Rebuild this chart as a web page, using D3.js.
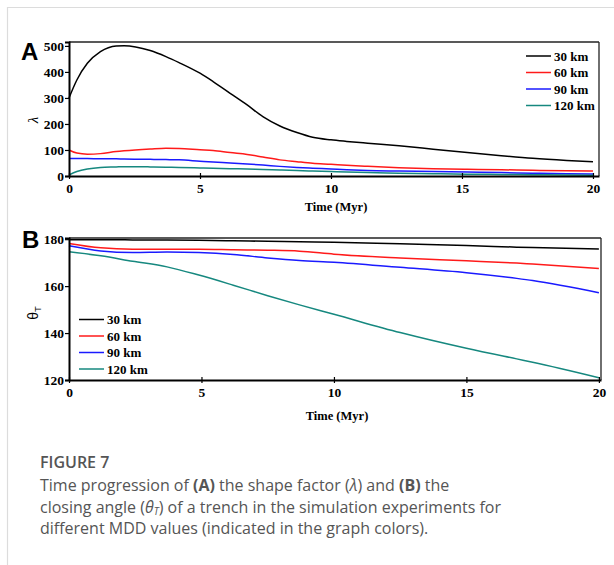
<!DOCTYPE html>
<html>
<head>
<meta charset="utf-8">
<script src="https://cdn.jsdelivr.net/npm/d3@7"></script>
<style>
  html, body { margin: 0; padding: 0; background: #fff; }
  svg { display: block; }
</style>
</head>
<body>
<svg id="fig" width="614" height="565"></svg>
<script>
// Legend entries (MDD values) and line colours
const seriesNames = ["30 km", "60 km", "90 km", "120 km"];
const seriesColors = ["#000000", "#ff1a1a", "#1a1aff", "#16887f"];

// Time axis samples (Myr)
const timeA = [0, 0.3, 0.7, 1.2, 1.8, 2.1, 3.1, 3.7, 4.2, 5, 5.5, 6.15, 6.8, 7.4, 8.05, 8.7, 9.3, 10, 10.6, 11.4, 12.6, 13.9, 15.2, 16.5, 17.7, 19, 20];
// Shape factor λ for each MDD
const lambda30 = [300, 369, 433, 478, 500, 501, 482, 459, 436, 395, 363, 318, 273, 228, 192, 167, 149, 139, 133, 126, 116, 103, 90, 78, 68, 60, 55];
const lambda60 = [100, 88, 84, 86, 94, 97, 104, 107, 106, 101, 98, 90, 83, 73, 62, 55, 49, 45, 41, 37, 32, 28, 26, 24, 22, 20, 19];
const lambda90 = [67, 67, 67, 66, 66, 65, 64, 63, 62, 57, 54, 50, 46, 42, 37, 33, 30, 27, 24, 21, 19, 17, 15, 13, 11, 9, 8];
const lambda120 = [4, 17, 27, 33, 35, 36, 35, 34, 33, 31, 30, 28, 27, 25, 23, 21, 19, 17, 15, 13, 11, 9, 7, 6, 5, 4, 3];

const timeB = [0, 1.2, 2.4, 3.7, 4.9, 6.2, 7.5, 8.7, 10, 12.5, 15, 16.9, 17.5, 20];
// Closing angle θT for each MDD
const theta30 = [179.8, 179.8, 179.7, 179.6, 179.5, 179.3, 179.1, 178.9, 178.7, 178.0, 177.3, 176.6, 176.4, 175.8];
const theta60 = [178.2, 176.3, 175.7, 175.7, 175.7, 175.5, 175.3, 174.9, 173.6, 172.0, 170.8, 169.8, 169.4, 167.5];
const theta90 = [177.2, 175.0, 174.3, 174.5, 174.3, 173.5, 172.0, 170.9, 170.2, 168.0, 165.7, 163.3, 162.4, 157.2];
const theta120 = [174.6, 172.9, 170.6, 168.2, 164.7, 160.4, 155.9, 152.0, 148.0, 140.2, 133.5, 129.0, 127.6, 121.0];

const ticksX = [0, 5, 10, 15, 20];
const ticksA = [0, 100, 200, 300, 400, 500];
const ticksB = [120, 140, 160, 180];

const svg = d3.select("#fig");
const serif = "'Liberation Serif', 'Times New Roman', serif";
const sans = "'Liberation Sans', Arial, sans-serif";

// card outline
svg.append("line").attr("x1", 7).attr("x2", 614).attr("y1", 7.5).attr("y2", 7.5)
  .attr("stroke", "#dcdcdc").attr("stroke-width", 1.2);
svg.append("line").attr("x1", 7.5).attr("x2", 7.5).attr("y1", 7).attr("y2", 565)
  .attr("stroke", "#dcdcdc").attr("stroke-width", 1.2);

function panel(opts) {
  const { left, right, top, bottom, x, y, yTicks, times, series, legendPos, letter, letterPos, labelY } = opts;
  const g = svg.append("g");

  // curves
  const line = d3.line().curve(d3.curveMonotoneX);
  series.forEach((vals, i) => {
    g.append("path")
      .attr("d", line(times.map((t, k) => [x(t), y(vals[k])])))
      .attr("fill", "none")
      .attr("stroke", seriesColors[i])
      .attr("stroke-width", 1.5);
  });

  // frame: thin top/right, heavy left/bottom
  g.append("line").attr("x1", left).attr("x2", right).attr("y1", top).attr("y2", top)
    .attr("stroke", "#222").attr("stroke-width", 1.3);
  g.append("line").attr("x1", right).attr("x2", right).attr("y1", top).attr("y2", bottom)
    .attr("stroke", "#222").attr("stroke-width", 1.3);

  const xAxis = d3.axisBottom(x).tickValues(ticksX).tickSize(0).tickPadding(7).tickFormat(d3.format("d"));
  const gx = g.append("g").attr("transform", `translate(0,${bottom})`).call(xAxis)
    .attr("font-family", serif).attr("font-size", 13.5).attr("font-weight", "bold");
  gx.select(".domain").attr("stroke", "#000").attr("stroke-width", 2);
  gx.selectAll(".tick line").attr("stroke", "#000").attr("stroke-width", 1.2)
    .attr("y1", -3).attr("y2", 3);
  gx.selectAll(".tick text").attr("fill", "#000");

  const yAxis = d3.axisLeft(y).tickValues(yTicks).tickSize(4).tickPadding(1).tickFormat(d3.format("d"));
  const gy = g.append("g").attr("transform", `translate(${left},0)`).call(yAxis)
    .attr("font-family", serif).attr("font-size", 13.5).attr("font-weight", "bold");
  gy.select(".domain").attr("stroke", "#000").attr("stroke-width", 2);
  gy.selectAll(".tick line").attr("stroke", "#000").attr("stroke-width", 1.2);
  gy.selectAll(".tick text").attr("fill", "#000");

  // x title
  g.append("text").attr("x", (left + right) / 2 + 2).attr("y", opts.titleY)
    .attr("text-anchor", "middle").attr("font-family", serif).attr("font-weight", "bold")
    .attr("font-size", 12.5).text("Time (Myr)");

  // panel letter
  g.append("text").attr("x", letterPos[0]).attr("y", letterPos[1])
    .attr("font-family", sans).attr("font-weight", "bold").attr("font-size", 24).text(letter);

  // y title
  labelY(g);

  // legend
  const lg = g.append("g").attr("transform", `translate(${legendPos[0]},${legendPos[1]})`);
  seriesNames.forEach((n, i) => {
    const row = lg.append("g").attr("transform", `translate(0,${i * 16.5})`);
    row.append("line").attr("x1", 0).attr("x2", 25).attr("y1", 0).attr("y2", 0)
      .attr("stroke", seriesColors[i]).attr("stroke-width", 1.5);
    row.append("text").attr("x", 28).attr("y", 4.5).attr("font-family", serif)
      .attr("font-weight", "bold").attr("font-size", 13).text(n);
  });
}

// Panel A: shape factor
const xA = d3.scaleLinear().domain([0, 20.23]).range([69, 599]);
const yA = d3.scaleLinear().domain([0, 515]).range([176, 42]);
panel({
  left: 69, right: 599, top: 42, bottom: 176, x: xA, y: yA, yTicks: ticksA,
  times: timeA, series: [lambda30, lambda60, lambda90, lambda120],
  legendPos: [526, 56], letter: "A", letterPos: [21, 60], titleY: 211,
  labelY: g => g.append("text").attr("transform", "translate(38,120) rotate(-90)")
    .attr("text-anchor", "middle").attr("font-family", serif).attr("font-style", "italic")
    .attr("font-size", 15).text("λ")
});

// Panel B: closing angle
const xB = d3.scaleLinear().domain([0, 20.08]).range([69, 601]);
const yB = d3.scaleLinear().domain([120, 180.5]).range([380, 238]);
panel({
  left: 69, right: 601, top: 238, bottom: 380, x: xB, y: yB, yTicks: ticksB,
  times: timeB, series: [theta30, theta60, theta90, theta120],
  legendPos: [79, 319.5], letter: "B", letterPos: [22, 248], titleY: 420,
  labelY: g => {
    const t = g.append("text").attr("transform", "translate(38,313) rotate(-90)")
      .attr("text-anchor", "middle").attr("font-family", sans).attr("font-size", 14);
    t.append("tspan").text("θ");
    t.append("tspan").attr("font-size", 9.5).attr("dy", 3).text("T");
  }
});

// caption
const capFont = "'Open Sans', Lato, sans-serif";
const capX = 40;
svg.append("text").attr("x", capX).attr("y", 468).attr("font-family", capFont)
  .attr("font-size", 16).attr("font-weight", 600).attr("fill", "#555").text("FIGURE 7");

const capLines = [
  [["Time progression of ", 0], ["(A)", 1], [" the shape factor (", 0], ["λ", 2], [") and ", 0], ["(B)", 1], [" the", 0]],
  [["closing angle (", 0], ["θ", 2], ["T", 3], [") of a trench in the simulation experiments for", 0]],
  [["different MDD values (indicated in the graph colors).", 0]]
];
capLines.forEach((segs, li) => {
  const t = svg.append("text").attr("x", capX).attr("y", 491 + li * 21.5)
    .attr("font-family", capFont).attr("font-size", 16).attr("fill", "#555");
  let sub = false;
  segs.forEach(([s, k]) => {
    const ts = t.append("tspan").text(s);
    if (k === 1) ts.attr("font-weight", "bold");
    if (k === 2) ts.attr("font-style", "italic");
    if (k === 3) { ts.attr("font-size", 10).attr("font-style", "italic").attr("dy", 2.5); sub = true; }
    else if (sub) { ts.attr("dy", -2.5); sub = false; }
  });
});
</script>
</body>
</html>
